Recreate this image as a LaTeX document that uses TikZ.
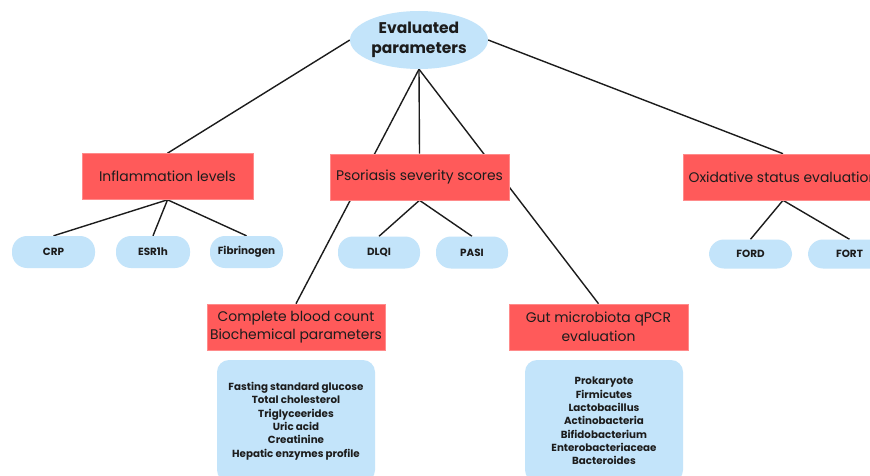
\documentclass[tikz,border=0pt]{standalone}
\usepackage{fontspec}
\setmainfont{Poppins}
\usetikzlibrary{shapes.geometric,backgrounds}
\definecolor{pblue}{HTML}{C3E4FA}
\definecolor{pred}{HTML}{FF5A5A}
\definecolor{ink}{HTML}{1C1C1C}
\begin{document}
\begin{tikzpicture}[x=1pt,y=-1pt,
  redbox/.style={fill=pred,draw=pred!70!white,line width=0.6pt,minimum height=46pt,inner sep=0pt,align=center,text=ink,font=\fontsize{13.9}{18.5}\selectfont},
  pill/.style={fill=pblue,rounded corners=15pt,minimum height=32pt,inner sep=0pt,text=ink,font=\fontsize{10.4}{12}\selectfont\bfseries},
  listbox/.style={fill=pblue,rounded corners=12pt,minimum width=158pt,minimum height=122pt,inner sep=0pt,align=center,text=ink,font=\fontsize{10.3}{13.3}\selectfont\bfseries},
  conn/.style={draw=ink,line width=1.4pt}]
\useasboundingbox (0,0) rectangle (870,476);
\clip (0,0) rectangle (870,476);
% nodes
\node[ellipse,fill=pblue,minimum width=138pt,minimum height=58pt,inner sep=0pt,align=center,text=ink,font=\fontsize{15.5}{20}\selectfont\bfseries] (ev) at (419,40) {Evaluated\\parameters};
\path
  node[redbox,minimum width=171pt] (infl) at (167.5,176.5) {Inflammation levels}
  node[redbox,minimum width=179pt] (psor) at (419.5,177) {Psoriasis severity scores}
  node[redbox,minimum width=200pt] (oxid) at (783,177) {Oxidative status evaluation}
  node[redbox,minimum width=178pt] (cbc) at (296,327) {Complete blood count\\Biochemical parameters}
  node[redbox,minimum width=179pt] (gut) at (598.5,327) {Gut microbiota qPCR\\evaluation}
  node[pill,minimum width=83pt] (crp) at (53.5,252) {CRP}
  node[pill,minimum width=74pt] (esr) at (153,252) {ESR1h}
  node[pill,minimum width=73pt] (fib) at (246.5,252) {Fibrinogen}
  node[pill,minimum width=82pt] (dlqi) at (379,252.5) {DLQI}
  node[pill,minimum width=72pt] (pasi) at (472,252.5) {PASI}
  node[pill,minimum width=83pt,minimum height=29pt] (ford) at (750.5,254) {FORD}
  node[pill,minimum width=83pt,minimum height=29pt] (fort) at (849.5,254) {FORT}
  node[listbox] (lst1) at (296,421) {Fasting standard glucose\\Total cholesterol\\Triglyceerides\\Uric acid\\Creatinine\\Hepatic enzymes profile}
  node[listbox] (lst2) at (604,421) {Prokaryote\\Firmicutes\\Lactobacillus\\Actinobacteria\\Bifidobacterium\\Enterobacteriaceae\\Bacteroides};
% connectors (behind boxes)
\begin{scope}[on background layer]
  \fill[white] (0,0) rectangle (870,476);
  \draw[conn] (ev.west) -- (infl.north);
  \draw[conn] (ev.east) -- (oxid.north);
  \draw[conn] (ev.south) -- (psor.north);
  \draw[conn] (ev.south) -- (cbc.north);
  \draw[conn] (ev.south) -- (gut.north);
  \draw[conn] (infl.south) -- (crp.north);
  \draw[conn] (infl.south) -- (esr.north);
  \draw[conn] (infl.south) -- (fib.north);
  \draw[conn] (psor.south) -- (dlqi.north);
  \draw[conn] (psor.south) -- (pasi.north);
  \draw[conn] (oxid.south) -- (ford.north);
  \draw[conn] (oxid.south) -- (fort.north);
\end{scope}
\end{tikzpicture}
\end{document}
